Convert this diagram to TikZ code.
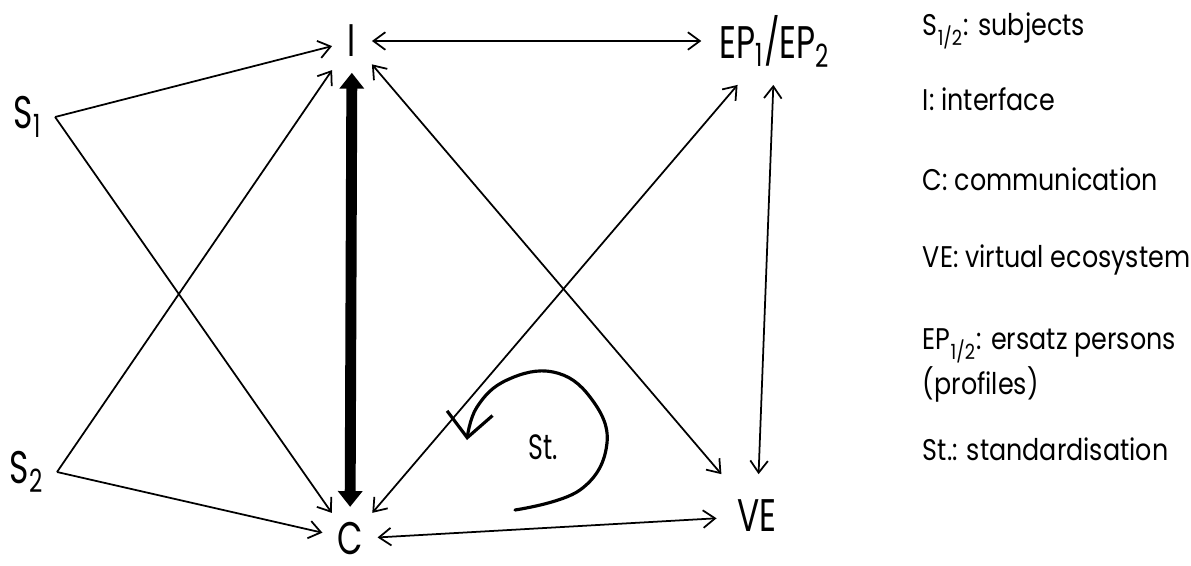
\documentclass[tikz,border=0pt]{standalone}
\usepackage{fontspec}
\setmainfont{Poppins}
\newfontfamily\labelfont[FakeStretch=0.72]{Poppins}
\newfontfamily\legendfont[FakeStretch=0.85]{Poppins}
\usetikzlibrary{arrows.meta}
\begin{document}
\begin{tikzpicture}[line width=0.5pt,
  >={Straight Barb[length=3.4pt,width=5pt]},
  lbl/.style={font=\labelfont\fontsize{13}{13}\selectfont, inner sep=0.15cm},
  key/.style={font=\legendfont\fontsize{8.5}{9}\selectfont, anchor=base west,
    inner sep=0pt, align=left},
  heavy/.style={line width=3.1pt,
    {Triangle[length=4.5pt,width=6.8pt]}-{Triangle[length=4.5pt,width=6.8pt]}}]
  \useasboundingbox (0,0) rectangle (11.91,5.65);
  % the six terms
  \node[lbl, inner sep=0.12cm] (S1) at (0.28,4.48) {S\textsubscript{1}};
  \node[lbl, inner sep=0.12cm] (S2) at (0.27,0.93) {S\textsubscript{2}};
  \node[lbl] (I) at (3.52,5.24) {I};
  \node[lbl, inner xsep=0.14cm, inner ysep=0.09cm] (C) at (3.50,0.26) {C};
  \node[lbl, inner sep=0.17cm] (EP) at (7.75,5.24) {EP\textsubscript{1}/EP\textsubscript{2}};
  \node[lbl, inner xsep=0.2cm, inner ysep=0.25cm] (VE) at (7.57,0.49) {VE};
  % links
  \draw[->] (S1.east) -- (I);
  \draw[->] (S1.east) -- (C);
  \draw[->] (S2.east) -- (I);
  \draw[->] (S2.east) -- (C);
  \draw[<->] (I) -- (EP);
  \draw[<->] (C) -- (VE);
  \draw[<->] (I) -- (VE);
  \draw[<->] (C) -- (EP);
  \draw[<->] (EP) -- (VE);
  \draw[heavy, shorten >=0.06cm] (I) -- (C);
  % standardisation loop
  \draw[line width=0.9pt, line cap=round, -{Straight Barb[length=7pt,width=13pt]}]
    plot[smooth, tension=0.7] coordinates {(5.15,0.55) (5.80,0.75) (6.07,1.22)
      (5.90,1.68) (5.53,1.93) (5.07,1.85) (4.77,1.58) (4.67,1.25)};
  \node[font=\labelfont\fontsize{10}{10}\selectfont] (St) at (5.43,1.18) {St.};
  % key
  \node[key] (kS) at (9.22,5.30) {S\textsubscript{1/2}: subjects};
  \node[key] (kI) at (9.22,4.55) {I: interface};
  \node[key] (kC) at (9.22,3.75) {C: communication};
  \node[key] (kVE) at (9.22,2.98) {VE: virtual ecosystem};
  \node[key, anchor=north west] (kEP) at (9.22,2.37) {EP\textsubscript{1/2}: ersatz persons\\(profiles)};
  \node[key] (kSt) at (9.22,1.05) {St.: standardisation};
\end{tikzpicture}
\end{document}
